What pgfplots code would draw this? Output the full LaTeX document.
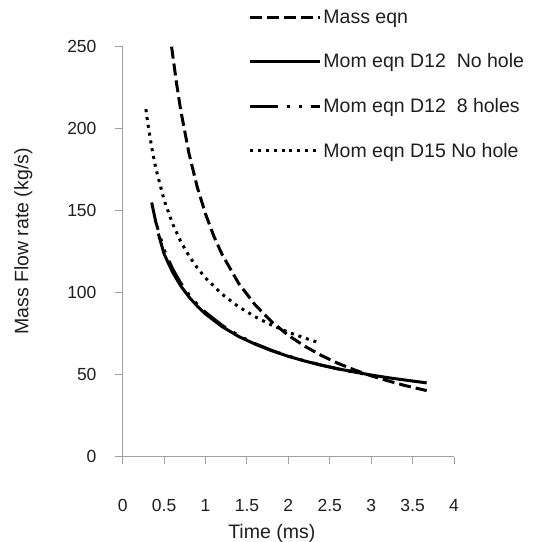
\documentclass[border=0pt]{standalone}
\usepackage{pgfplots}
\pgfplotsset{compat=1.18}
\usepackage{fontspec}
\setmainfont{Liberation Sans}
\definecolor{axgray}{RGB}{160,160,160}
\definecolor{txt}{RGB}{30,30,30}
\begin{document}
\begin{tikzpicture}
\begin{axis}[
    scale only axis,
    width=331.3pt,
    height=410pt,
    xmin=0, xmax=4,
    ymin=0, ymax=250,
    xtick={0,0.5,...,4},
    ytick={0,50,...,250},
    axis x line=bottom,
    axis y line=left,
    axis line style={-, axgray, line width=1pt},
    tick style={axgray, line width=1pt},
    tick align=outside,
    major tick length=7.7pt,
    font=\fontsize{17.5}{20}\selectfont,
    /pgf/number format/assume math mode=true,
    tick label style={txt},
    xticklabel style={anchor=north, text height=12.6pt, text depth=0pt, yshift=-31pt},
    yticklabel style={xshift=-15pt},
    xlabel={Time (ms)},
    ylabel={Mass Flow rate (kg/s)},
    xlabel style={at={(axis description cs:0.45,-0.187)}, anchor=center, txt,
        font=\fontsize{19.5}{22}\selectfont},
    ylabel style={at={(axis description cs:-0.3,0.525)}, anchor=center, txt,
        font=\fontsize{19.5}{22}\selectfont},
    legend style={at={(axis description cs:0.37,1.1)}, anchor=north west,
        draw=none, fill=none, font=\fontsize{19.5}{22}\selectfont,
        row sep=25pt, text=txt},
    legend cell align=left,
    legend image code/.code={\draw[#1] (0pt,0pt) -- (70pt,0pt);},
    every axis plot/.append style={black, line width=3pt, line cap=butt},
    clip=false,
]
% Mass eqn
\addplot[dash pattern=on 12pt off 5pt] coordinates {
    (0.59,250) (0.65,227.7) (0.7,211.4) (0.8,185) (0.9,164.4) (1.0,148)
    (1.1,134.5) (1.2,123.3) (1.4,105.7) (1.6,92.5) (1.8,82.2) (2.0,74)
    (2.2,67.3) (2.4,61.7) (2.6,56.9) (2.8,52.9) (3.0,49.3) (3.2,46.3)
    (3.4,43.5) (3.67,40.3)
};
\addlegendentry{Mass eqn}
% Mom eqn D12 No hole
\addplot[solid] coordinates {
    (0.43,136) (0.5,123.6) (0.6,112.7) (0.7,104.2) (0.8,97.4) (0.9,91.8)
    (1.0,87) (1.2,79.3) (1.4,73.3) (1.6,68.6) (1.8,64.6) (2.0,61.2)
    (2.2,58.3) (2.4,55.8) (2.6,53.6) (2.8,51.6) (3.0,49.8) (3.2,48.2)
    (3.4,46.8) (3.67,45.0)
};
\addlegendentry{Mom eqn D12\ \ No hole}
% Mom eqn D12 8 holes
\addplot[dash pattern=on 28pt off 9pt on 3pt off 9pt on 3pt off 9pt] coordinates {
    (0.35,155) (0.4,143) (0.5,126.2) (0.6,114.8) (0.7,105.9) (0.8,98.8)
    (0.9,92.9) (1.0,88) (1.2,80.1) (1.4,73.9) (1.6,68.9) (1.8,64.8)
    (2.0,61.4) (2.2,58.4) (2.4,55.8) (2.6,53.5) (2.8,51.5) (3.06,49.2)
};
\addlegendentry{Mom eqn D12\ \ 8 holes}
% Mom eqn D15 No hole
\addplot[dash pattern=on 3pt off 4.9pt] coordinates {
    (0.28,211.9) (0.3,204.4) (0.35,188.6) (0.4,175.8) (0.5,156.5)
    (0.6,142.3) (0.7,131.3) (0.8,122.5) (0.9,115.2) (1.0,109)
    (1.2,99.1) (1.4,91.4) (1.6,85.3) (1.8,80.2) (2.0,75.9) (2.2,72.3)
    (2.37,69.5)
};
\addlegendentry{Mom eqn D15 No hole}
\end{axis}
\pgfresetboundingbox
\path[use as bounding box] ([shift={(-122.7pt,-85.3pt)}]current axis.south west)
    rectangle ([shift={(80pt,46.7pt)}]current axis.north east);
\end{tikzpicture}
\end{document}
